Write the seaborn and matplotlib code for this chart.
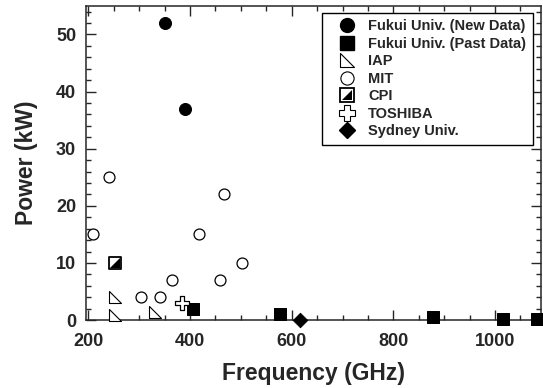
import numpy as np
import pandas as pd
import seaborn as sns
import matplotlib.pyplot as plt
from matplotlib.path import Path
from matplotlib.lines import Line2D
from matplotlib.legend_handler import HandlerTuple
from matplotlib.ticker import MultipleLocator

# data (GHz, kW)
fukui_new_f = [350, 390]
fukui_new_p = [52, 37]
fukui_past_f = [405, 577, 877, 1015, 1083]
fukui_past_p = [2, 1, 0.5, 0.2, 0.2]
iap_f = [253, 253, 331]
iap_p = [4.1, 0.9, 1.5]
mit_f = [210, 241, 304, 340, 364, 418, 458, 467, 503]
mit_p = [15, 25, 4, 4, 7, 15, 7, 22, 10]
cpi_f = [252]
cpi_p = [10]
toshiba_f = [384]
toshiba_p = [3]
sydney_f = [617]
sydney_p = [0]

sns.set_style("ticks")
plt.rcParams['font.family'] = ['Liberation Sans', 'DejaVu Sans']
plt.rcParams['font.weight'] = 'bold'

tri = Path([(-1, 1), (-1, -1), (1, -1), (-1, 1)], [1, 2, 2, 79])
lowtri = Path([(-1, -1), (1, -1), (1, 1), (-1, -1)], [1, 2, 2, 79])

fig = plt.figure(figsize=(5.43, 3.88), dpi=100)
ax = fig.add_axes([0.158, 0.175, 0.838, 0.81])

kw = dict(ax=ax, clip_on=False, legend=False, zorder=3)
sns.scatterplot(x=fukui_new_f, y=fukui_new_p, marker='o', s=75, color='black', edgecolor='black', **kw)
sns.scatterplot(x=fukui_past_f, y=fukui_past_p, marker='s', s=80, color='black', edgecolor='black', **kw)
sns.scatterplot(x=iap_f, y=iap_p, marker=tri, s=70, facecolor='white', edgecolor='black', linewidth=0.8, **kw)
sns.scatterplot(x=mit_f, y=mit_p, marker='o', s=62, facecolor='white', edgecolor='black', linewidth=0.9, **kw)
sns.scatterplot(x=cpi_f, y=cpi_p, marker='s', s=85, facecolor='white', edgecolor='black', linewidth=1.3, **kw)
sns.scatterplot(x=cpi_f, y=cpi_p, marker=lowtri, s=45, color='black', edgecolor='black', linewidth=0, **kw)
sns.scatterplot(x=toshiba_f, y=toshiba_p, marker='P', s=95, facecolor='white', edgecolor='black', linewidth=0.9, **kw)
sns.scatterplot(x=sydney_f, y=sydney_p, marker='D', s=55, color='black', edgecolor='black', **kw)

ax.set_xlim(195, 1090)
ax.set_ylim(0, 55)
ax.xaxis.set_major_locator(MultipleLocator(200))
ax.xaxis.set_minor_locator(MultipleLocator(50))
ax.yaxis.set_major_locator(MultipleLocator(10))
ax.yaxis.set_minor_locator(MultipleLocator(2))
ax.tick_params(which='both', direction='in', top=True, right=True, labelsize=13, width=1)
ax.tick_params(which='major', length=7)
ax.tick_params(axis='x', which='major', pad=9)
ax.tick_params(axis='y', which='major', pad=7)
ax.tick_params(which='minor', length=3.5)
for sp in ax.spines.values():
    sp.set_linewidth(1.1)
    sp.set_visible(True)
for lab in ax.get_xticklabels() + ax.get_yticklabels():
    lab.set_fontweight('bold')

ax.set_xlabel("Frequency (GHz)", fontsize=16.5, fontweight='bold', labelpad=9)
ax.set_ylabel("Power (kW)", fontsize=16.5, fontweight='bold', labelpad=13)

h_new = Line2D([], [], ls='', marker='o', ms=10, mfc='black', mec='black')
h_past = Line2D([], [], ls='', marker='s', ms=10, mfc='black', mec='black')
h_iap = Line2D([], [], ls='', marker=tri, ms=9.5, mfc='white', mec='black', mew=0.8)
h_mit = Line2D([], [], ls='', marker='o', ms=9.5, mfc='white', mec='black', mew=0.8)
h_cpi = (Line2D([], [], ls='', marker='s', ms=10, mfc='white', mec='black', mew=1.3),
         Line2D([], [], ls='', marker=lowtri, ms=7, mfc='black', mec='black', mew=0))
h_tosh = Line2D([], [], ls='', marker='P', ms=11, mfc='white', mec='black', mew=0.8)
h_syd = Line2D([], [], ls='', marker='D', ms=8.5, mfc='black', mec='black')
leg = ax.legend([h_new, h_past, h_iap, h_mit, h_cpi, h_tosh, h_syd],
                ["Fukui Univ. (New Data)", "Fukui Univ. (Past Data)", "IAP", "MIT", "CPI", "TOSHIBA", "Sydney Univ."],
                handler_map={tuple: HandlerTuple(ndivide=1, pad=0)},
                loc='upper right', bbox_to_anchor=(0.982, 0.978), fancybox=False, edgecolor='black',
                framealpha=1, prop={'weight': 'bold', 'size': 10.5},
                handlelength=2.5, handletextpad=0.2, labelspacing=0.24, borderpad=0.45, borderaxespad=0)
leg.get_frame().set_linewidth(1.0)

plt.savefig("out.png", dpi=100)
